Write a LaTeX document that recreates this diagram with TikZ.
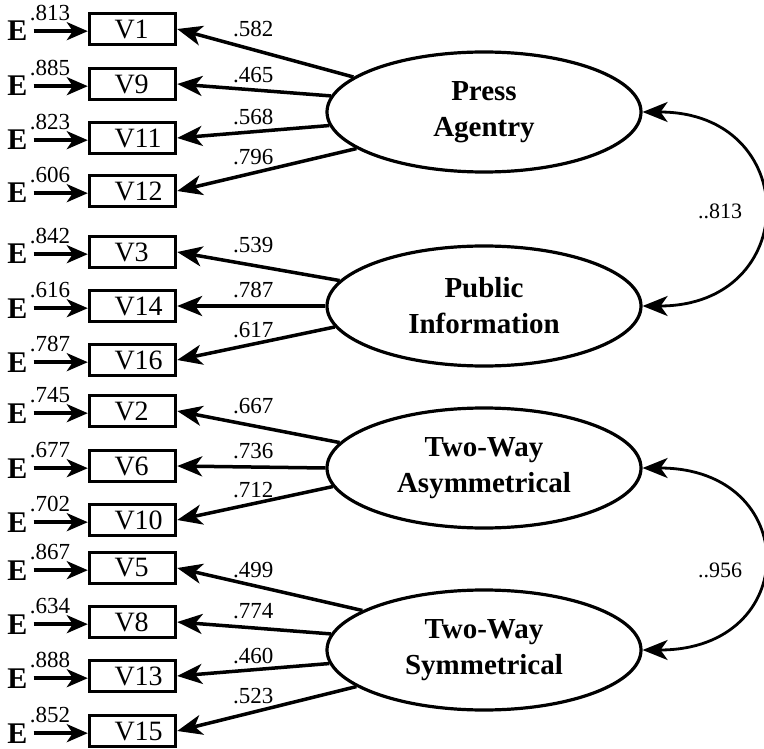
\documentclass[tikz,border=0pt]{standalone}
\usepackage{fontspec}
\setmainfont{Liberation Serif}
\usetikzlibrary{arrows.meta,shapes.geometric,calc}

\begin{document}
\begin{tikzpicture}[x=1pt,y=-1pt,
  obs/.style={draw, line width=3.4pt, minimum width=86pt, minimum height=31pt,
    inner ysep=0pt, inner xsep=25pt, text width=36pt, align=left,
    font=\fontsize{28}{30}\selectfont},
  errlbl/.style={font=\bfseries\fontsize{30}{32}\selectfont, inner sep=0pt, anchor=base},
  supval/.style={font=\fontsize{23}{25}\selectfont, inner sep=0pt, anchor=base west},
  latent/.style={ellipse, draw, line width=3.2pt, minimum width=314pt, minimum height=120pt,
    align=center, font=\bfseries\fontsize{29}{36}\selectfont},
  tip/.tip={Stealth[length=25pt,width=20pt,inset=7pt]},
  load/.style={line width=3.5pt, -tip},
  errarr/.style={line width=3.5pt, -{Stealth[length=21pt,width=18pt,inset=6pt]}, shorten <=6pt},
  cov/.style={line width=2.8pt, tip-tip},
  coef/.style={font=\fontsize{23}{25}\selectfont, inner sep=0pt, anchor=base west},
  corr/.style={font=\fontsize{22}{24}\selectfont, inner sep=0pt}
]
\useasboundingbox (0,0) rectangle (764,749);

% latent factors
\node[latent] (PA) at (484,112) {Press\\Agentry};
\node[latent] (PI) at (484,306) {Public\\Information};
\node[latent] (TA) at (484,468) {Two-Way\\Asymmetrical};
\node[latent] (TS) at (484,650) {Two-Way\\Symmetrical};

% indicators, error terms and loadings
\foreach \n/\y/\ev/\lv/\ang/\cf/\cy in {
  V1/29/.813/PA/165/.582/37,
  V9/84/.885/PA/174/.465/83,
  V11/138/.823/PA/185/.568/125,
  V12/191/.606/PA/196/.796/165,
  V3/252/.842/PI/170/.539/252,
  V14/306/.616/PI/180/.787/298,
  V16/360/.787/PI/188/.617/337,
  V2/411/.745/TA/170/.667/413,
  V6/466/.677/TA/180/.736/458,
  V10/520/.702/TA/187/.712/497,
  V5/568/.867/TS/162/.499/577,
  V8/622/.634/TS/174/.774/618,
  V13/676/.888/TS/185/.460/663,
  V15/731/.852/TS/196/.523/703}{
  \node[obs] (\n) at (132.5,\y) {\n};
  \node[errlbl] (E\n) at (17.5,\y+12) {E};
  \node[supval] (S\n) at ([xshift=2pt,yshift=1pt]E\n.north east) {\ev};
  \draw[errarr] (E\n) -- (E\n -| \n.west);
  \draw[load] (\lv.\ang) -- (\n.east);
  \node[coef] (C\n) at (233,\cy) {\cf};
}

% factor correlations
\draw[cov] (PA.east) .. controls ($(PA.east)+(160,0)$) and ($(PI.east)+(160,0)$) .. (PI.east);
\draw[cov] (TA.east) .. controls ($(TA.east)+(160,0)$) and ($(TS.east)+(160,0)$) .. (TS.east);
\node[corr] (R1) at (720,211) {..813};
\node[corr] (R2) at (720,570) {..956};
\end{tikzpicture}
\end{document}
